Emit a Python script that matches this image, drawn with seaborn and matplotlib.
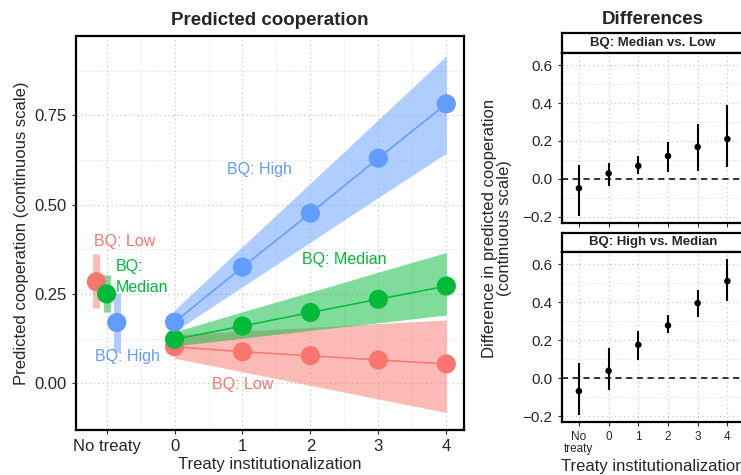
import numpy as np
import pandas as pd
import matplotlib
matplotlib.use("Agg")
import matplotlib.pyplot as plt
import seaborn as sns
from matplotlib.ticker import MultipleLocator

# -------------------------
# === Data ===
# -------------------------
groups = ["Low", "Median", "High"]
inst = [0, 1, 2, 3, 4]
x_labels = ["No treaty", "0", "1", "2", "3", "4"]

# predicted cooperation by treaty institutionalization
pred_low = [0.102, 0.088, 0.077, 0.065, 0.054]
pred_low_lo = [0.070, 0.032, -0.006, -0.044, -0.082]
pred_low_hi = [0.135, 0.146, 0.156, 0.167, 0.177]

pred_med = [0.123, 0.160, 0.198, 0.235, 0.272]
pred_med_lo = [0.104, 0.126, 0.148, 0.169, 0.191]
pred_med_hi = [0.144, 0.200, 0.255, 0.311, 0.366]

pred_high = [0.171, 0.325, 0.476, 0.630, 0.782]
pred_high_lo = [0.145, 0.270, 0.395, 0.520, 0.644]
pred_high_hi = [0.205, 0.383, 0.560, 0.738, 0.916]

# no treaty estimates (Low, Median, High)
nt_pred = [0.284, 0.250, 0.170]
nt_lo = [0.210, 0.200, 0.088]
nt_hi = [0.362, 0.303, 0.252]

# differences (No treaty, 0..4)
diff_ml = [-0.050, 0.028, 0.068, 0.120, 0.168, 0.210]
diff_ml_lo = [-0.196, -0.037, 0.025, 0.035, 0.040, 0.063]
diff_ml_hi = [0.072, 0.084, 0.120, 0.195, 0.288, 0.390]

diff_hm = [-0.068, 0.039, 0.176, 0.278, 0.395, 0.511]
diff_hm_lo = [-0.196, -0.062, 0.098, 0.240, 0.324, 0.404]
diff_hm_hi = [0.080, 0.160, 0.249, 0.335, 0.463, 0.627]

palette = {"Low": "#F8766D", "Median": "#00BA38", "High": "#619CFF"}
NO_TREATY_X = -1
DODGE = {"Low": -0.15, "Median": 0.0, "High": 0.15}

# -------------------------
# === Style ===
# -------------------------
sns.set_theme(style="white")
plt.rcParams["font.family"] = ["Liberation Sans", "DejaVu Sans"]
plt.rcParams["xtick.major.size"] = 3
plt.rcParams["ytick.major.size"] = 3
plt.rcParams["xtick.major.width"] = 0.8
plt.rcParams["ytick.major.width"] = 0.8
plt.rcParams["xtick.bottom"] = True
plt.rcParams["ytick.left"] = True

W, H = 741, 475
fig = plt.figure(figsize=(W / 100, H / 100), dpi=100)


def px_axes(x0, y0, x1, y1):
    """add axes from pixel box (top-left origin)"""
    return fig.add_axes([x0 / W, 1 - y1 / H, (x1 - x0) / W, (y1 - y0) / H])


def style_grid(ax):
    ax.grid(True, which="major", color="#c8c8c8", linestyle=(0, (1, 2.5)), linewidth=0.9)
    ax.grid(True, which="minor", color="#e2e2e2", linestyle=(0, (1, 1.5)), linewidth=0.7)
    ax.set_axisbelow(True)
    ax.tick_params(which="minor", length=0)
    for s in ax.spines.values():
        s.set_color("black")
        s.set_linewidth(1.6)


# -------------------------
# === Left panel ===
# -------------------------
preds = {"Low": (pred_low, pred_low_lo, pred_low_hi),
         "Median": (pred_med, pred_med_lo, pred_med_hi),
         "High": (pred_high, pred_high_lo, pred_high_hi)}

rows = []
for g in groups:
    for x, v in zip(inst, preds[g][0]):
        rows.append({"inst": x, "pred": v, "bq": g})
df = pd.DataFrame(rows)

ax = px_axes(76, 36, 464, 430)
for g in groups:
    ax.fill_between(inst, preds[g][1], preds[g][2], color=palette[g], alpha=0.5, lw=0, zorder=1)
sns.lineplot(data=df, x="inst", y="pred", hue="bq", palette=palette, hue_order=groups,
             lw=1.1, legend=False, ax=ax, zorder=2)
sns.scatterplot(data=df, x="inst", y="pred", hue="bq", palette=palette, hue_order=groups,
                s=190, edgecolor="none", legend=False, ax=ax, zorder=3)

nt = pd.DataFrame({"bq": groups, "pred": nt_pred, "lo": nt_lo, "hi": nt_hi})
nt["x"] = NO_TREATY_X + nt["bq"].map(DODGE)
for _, r in nt.iterrows():
    ax.vlines(r["x"], r["lo"], r["hi"], color=palette[r["bq"]], lw=5, alpha=0.5, zorder=2)
sns.scatterplot(data=nt, x="x", y="pred", hue="bq", palette=palette, hue_order=groups,
                s=190, edgecolor="none", legend=False, ax=ax, zorder=3)

lab_kw = dict(fontsize=11.5, ha="center", va="center")
ax.text(-0.74, 0.396, "BQ: Low", color=palette["Low"], **lab_kw)
ax.text(-0.86, 0.298, "BQ:\nMedian", color=palette["Median"], fontsize=11.5,
        ha="left", va="center", linespacing=1.5)
ax.text(-0.70, 0.075, "BQ: High", color=palette["High"], **lab_kw)
ax.text(1.25, 0.597, "BQ: High", color=palette["High"], **lab_kw)
ax.text(2.50, 0.347, "BQ: Median", color=palette["Median"], **lab_kw)
ax.text(1.00, -0.003, "BQ: Low", color=palette["Low"], **lab_kw)

ax.set_xlim(-1.45, 4.26)
ax.set_ylim(-0.131, 0.972)
ax.set_xticks([NO_TREATY_X] + inst)
ax.set_xticklabels(x_labels, fontsize=12)
ax.xaxis.set_minor_locator(MultipleLocator(0.5))
ax.set_yticks([0, 0.25, 0.5, 0.75])
ax.set_yticklabels(["0.00", "0.25", "0.50", "0.75"], fontsize=12)
ax.yaxis.set_minor_locator(MultipleLocator(0.125))
style_grid(ax)
ax.set_xlabel("Treaty institutionalization", fontsize=12, labelpad=2)
ax.set_ylabel("Predicted cooperation (continuous scale)", fontsize=12, labelpad=4)
ax.set_title("Predicted cooperation", fontsize=13.5, fontweight="bold", pad=8)

# -------------------------
# === Right panels (differences) ===
# -------------------------
diff_x = [NO_TREATY_X] + inst
panels = [("BQ: Median vs. Low", diff_ml, diff_ml_lo, diff_ml_hi, 33.3, 52.7, 222.7),
          ("BQ: High vs. Median", diff_hm, diff_hm_lo, diff_hm_hi, 232.7, 251.7, 422.3)]
R_X0, R_X1 = 561.7, 744.6

for i, (strip, est, lo, hi, s0, p0, p1) in enumerate(panels):
    sax = px_axes(R_X0, s0, R_X1, p0)
    sax.set_xticks([])
    sax.set_yticks([])
    sax.set_facecolor("white")
    for s in sax.spines.values():
        s.set_color("black")
        s.set_linewidth(1.6)
    sax.text(0.5, 0.5, strip, transform=sax.transAxes, ha="center", va="center",
             fontsize=9.5, fontweight="bold")
    if i == 0:
        sax.set_title("Differences", fontsize=13.5, fontweight="bold", pad=7)

    rax = px_axes(R_X0, p0, R_X1, p1)
    rax.axhline(0, color="black", lw=1.1, ls=(0, (4, 3)), zorder=1)
    rax.vlines(diff_x, lo, hi, color="black", lw=1.5, zorder=2)
    sns.scatterplot(x=diff_x, y=est, color="black", s=22, edgecolor="none", ax=rax, zorder=3)
    rax.set_xlim(-1.58, 4.58)
    rax.set_ylim(-0.232, 0.666)
    rax.set_yticks([-0.2, 0.0, 0.2, 0.4, 0.6])
    rax.set_yticklabels(["\u22120.2", "0.0", "0.2", "0.4", "0.6"], fontsize=11)
    rax.yaxis.set_minor_locator(MultipleLocator(0.1))
    rax.set_xticks(diff_x)
    if i == 1:
        rax.set_xticklabels(["No\ntreaty"] + x_labels[1:], fontsize=8.5, va="top",
                            linespacing=1.0)
        rax.set_xlabel("Treaty institutionalization", fontsize=12, labelpad=3)
    else:
        rax.set_xticklabels([])
    style_grid(rax)

fig.text(497 / W, 1 - 228 / H, "Difference in predicted cooperation\n(continuous scale)",
         rotation=90, ha="center", va="center", fontsize=12, linespacing=1.0)

fig.savefig("out.png", dpi=100)
